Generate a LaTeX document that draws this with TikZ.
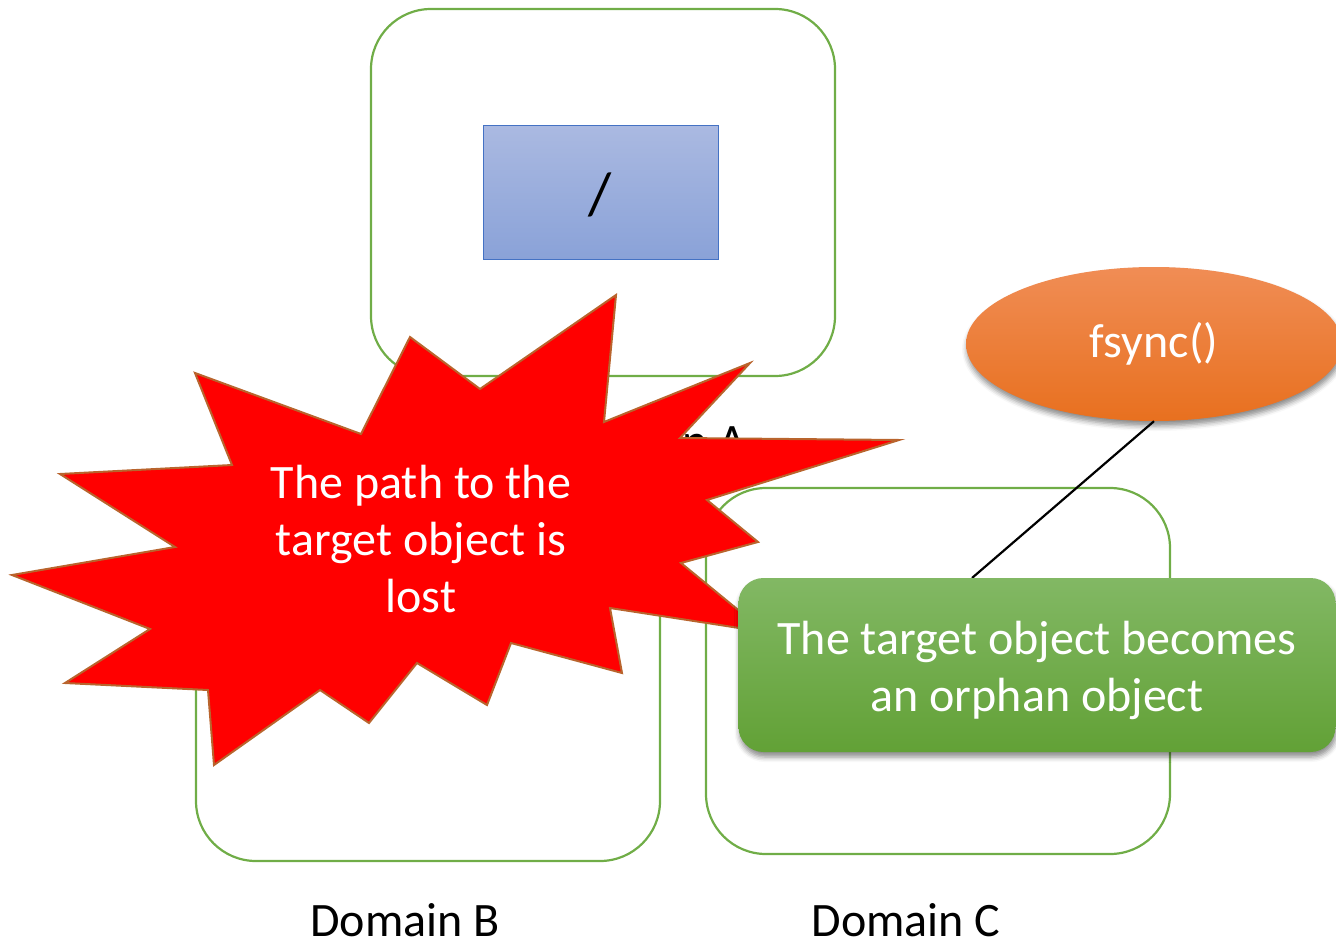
\documentclass[tikz,border=0pt]{standalone}
\usepackage{fontspec}
\setmainfont{Carlito}
\usetikzlibrary{shapes.geometric,shadows.blur}
\definecolor{domgreen}{HTML}{70AD47}
\definecolor{blueTop}{HTML}{AAB9E1}
\definecolor{blueBot}{HTML}{8AA2D8}
\definecolor{blueLine}{HTML}{4472C4}
\definecolor{orTop}{HTML}{F08D55}
\definecolor{orBot}{HTML}{E8701F}
\definecolor{grTop}{HTML}{82B864}
\definecolor{grBot}{HTML}{62A136}
\definecolor{starline}{RGB}{185,100,45}
\definecolor{starred}{HTML}{FF0000}
\tikzset{
  bigtext/.style={font=\fontsize{48}{57}\selectfont},
  domainbox/.style={draw=domgreen, line width=2.2pt, rounded corners=60pt, minimum width=464pt, inner sep=0pt},
  softshadow/.style={blur shadow={shadow xshift=1pt, shadow yshift=-5pt, shadow blur radius=5pt, shadow opacity=45}},
}
\begin{document}
\begin{tikzpicture}[x=1pt,y=-1pt]
\useasboundingbox (0,0) rectangle (1336,947);
% Domain A
\node[domainbox, minimum height=367pt] (domA) at (603,192.5) {};
\node[draw=blueLine, line width=1pt, top color=blueTop, bottom color=blueBot,
      minimum width=235pt, minimum height=133pt, inner sep=0pt] (root) at (600.5,192.5) {};
\node[font=\fontsize{60}{60}\selectfont, inner sep=0pt] (slash) at (600,195) {/};
\node[bigtext, anchor=base, inner sep=0pt] (labA) at (651,457) {Domain A};
% Domain B and C
\node[domainbox, minimum height=366pt] (domB) at (428,678) {};
\node[domainbox, minimum height=366pt] (domC) at (938,671) {};
% explosion
\draw[fill=starred, draw=starline, line width=2pt, line join=miter]
  (616,295) -- (604,422) -- (750,363) -- (680,438) -- (899,440) -- (707,500)
  -- (758,542) -- (681,563) -- (765,632) -- (610,608) -- (622,673) -- (511,643)
  -- (487,705) -- (417,663) -- (369,723) -- (320,690) -- (214,765) -- (208,690)
  -- (65,683) -- (150,629) -- (12,575) -- (175,547) -- (60,474) -- (232,465)
  -- (195,373) -- (361,434) -- (410,337) -- (480,389) -- cycle;
\node[bigtext, text=white, align=center, inner sep=0pt] (lost) at (421,539)
  {The path to the\\target object is\\lost};
% fsync
\node[ellipse, top color=orTop, bottom color=orBot, minimum width=376pt, minimum height=154pt,
      inner sep=0pt, text=white, bigtext, softshadow] (fs) at (1154,344) {fsync()};
\coordinate (lineend) at (972,578);
\draw[black, line width=2.2pt] (fs.south) -- (lineend);
% orphan box
\node[rounded corners=25pt, top color=grTop, bottom color=grBot, minimum width=597pt,
      minimum height=174pt, inner sep=0pt, softshadow] (orphan) at (1037,665) {};
\node[bigtext, text=white, align=center, inner sep=0pt] (orphantext) at (1037,670)
  {The target object becomes\\an orphan object};
% labels
\node[bigtext, anchor=base, inner sep=0pt] (labB) at (405,936) {Domain B};
\node[bigtext, anchor=base, inner sep=0pt] (labC) at (906,936) {Domain C};
\end{tikzpicture}
\end{document}
